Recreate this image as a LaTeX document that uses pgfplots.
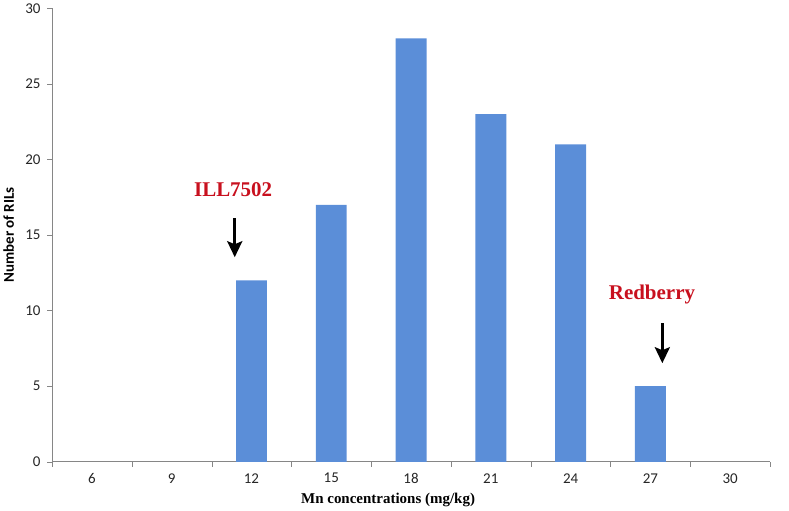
\documentclass[border=0pt]{standalone}
\usepackage{pgfplots}
\pgfplotsset{compat=1.18}
\usepackage{fontspec}
\setmainfont{Carlito}
\newfontfamily\timesfont{Liberation Serif}
\usetikzlibrary{arrows.meta}
\definecolor{barblue}{RGB}{91,142,216}
\definecolor{axgray}{RGB}{134,134,134}
\definecolor{annred}{RGB}{200,16,30}
\begin{document}
\begin{tikzpicture}
\begin{axis}[
  scale only axis,
  width=719.3bp, height=454.4bp,
  xmin=-0.5, xmax=8.5,
  ymin=0, ymax=30,
  ytick={0,5,...,30},
  xtick={0,...,8},
  xticklabels={6,9,12,15,18,21,24,27,30},
  minor xtick={-0.5,0.5,...,8.5},
  major x tick style={draw=none},
  minor x tick style={axgray},
  minor tick length=5bp,
  major tick length=5bp,
  tick align=outside,
  axis x line*=bottom,
  axis y line*=left,
  axis line style={axgray, line width=0.8bp},
  y tick style={axgray},
  tick label style={font=\fontsize{15bp}{17bp}\selectfont, text=black!85},
  xticklabel style={yshift=-3bp},
  yticklabel style={xshift=-3bp},
  /pgf/number format/assume math mode=true,
  ylabel={\bfseries Number of RILs},
  ylabel style={font=\fontsize{15bp}{17bp}\selectfont, at={(axis description cs:-0.0605,0.5)}, anchor=center},
  xlabel={\timesfont\bfseries Mn concentrations (mg/kg)},
  xlabel style={font=\fontsize{15bp}{17bp}\selectfont, at={(axis description cs:0.468,-0.0844)}, anchor=center},
  ybar, bar width=31bp,
  clip=false,
]
\addplot[fill=barblue, draw=none] coordinates {(2,12) (3,17) (4,28) (5,23) (6,21) (7,5)};
\node[font=\timesfont\bfseries\fontsize{21bp}{23bp}\selectfont, text=annred] at (axis cs:1.77,18.02) {ILL7502};
\draw[line width=3bp, -{Stealth[length=16bp,width=15bp,inset=3bp]}] (axis cs:1.79,16.1) -- (axis cs:1.79,13.53);
\node[font=\timesfont\bfseries\fontsize{21bp}{23bp}\selectfont, text=annred] at (axis cs:7.02,11.08) {Redberry};
\draw[line width=3bp, -{Stealth[length=16bp,width=15bp,inset=3bp]}] (axis cs:7.15,9.17) -- (axis cs:7.15,6.52);
\end{axis}
\useasboundingbox (-50.7bp,-49.3bp) rectangle (738.3bp,461.7bp);
\end{tikzpicture}
\end{document}
